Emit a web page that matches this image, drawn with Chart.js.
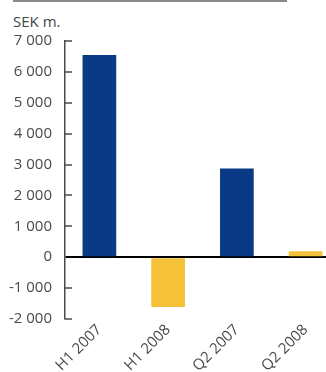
<!DOCTYPE html>
<html>
<head>
<meta charset="utf-8">
<script src="https://cdn.jsdelivr.net/npm/chart.js@4/dist/chart.umd.min.js"></script>
<style>
  html, body { margin: 0; padding: 0; background: #fff; overflow: hidden; }
  #wrap { position: relative; width: 326px; height: 372px; overflow: hidden; font-family: "Open Sans", sans-serif; }
  #rule { position: absolute; left: 13px; top: 0; width: 274px; height: 2px; background: #8a8a8a; }
  #unit { position: absolute; left: 13px; top: 11px; font-size: 15px; color: #444; }
  #box { position: absolute; left: 0; top: 0; width: 340px; height: 372px; }
</style>
</head>
<body>
<div id="wrap">
  <div id="rule"></div>
  <div id="unit">SEK m.</div>
  <div id="box"><canvas id="resultChart"></canvas></div>
</div>
<script>
const periods = ['H1 2007', 'H1 2008', 'Q2 2007', 'Q2 2008'];
const result = [6550, -1610, 2870, 190];
const barColors = ['#0a3a86', '#f5c138', '#0a3a86', '#f5c138'];
const yTicks = [7000, 6000, 5000, 4000, 3000, 2000, 1000, 0, -1000, -2000];

const axisGrey = '#4a4a4a';

// short tick marks pointing into the plot from the y axis
const inwardTicks = {
    id: 'inwardTicks',
    afterDraw(chart) {
        const y = chart.scales.y;
        const x0 = chart.chartArea.left;
        const c = chart.ctx;
        c.save();
        c.strokeStyle = axisGrey;
        c.lineWidth = 1.5;
        yTicks.forEach(v => {
            if (v === 0) return;
            const py = Math.round(y.getPixelForValue(v));
            c.beginPath();
            c.moveTo(x0 - 0.75, py);
            c.lineTo(x0 + 7, py);
            c.stroke();
        });
        c.restore();
    }
};

const ctx = document.getElementById('resultChart').getContext('2d');
const resultChart = new Chart(ctx, {
    type: 'bar',
    data: {
        labels: periods,
        datasets: [{
            data: result,
            backgroundColor: barColors,
            borderWidth: 0,
            categoryPercentage: 1,
            barPercentage: 0.49
        }]
    },
    options: {
        responsive: true,
        maintainAspectRatio: false,
        animation: false,
        layout: { padding: { top: 41, left: 0, right: 0, bottom: 0 } },
        plugins: {
            legend: { display: false },
            tooltip: { enabled: false }
        },
        scales: {
            x: {
                grid: { display: false, drawTicks: false },
                border: { display: false },
                ticks: {
                    minRotation: 45,
                    maxRotation: 45,
                    padding: 2,
                    color: axisGrey,
                    font: { family: 'Open Sans', size: 15 }
                },
                afterFit: s => { s.height = 53; }
            },
            y: {
                min: -2000,
                max: 7000,
                afterBuildTicks: s => { s.ticks = yTicks.map(v => ({ value: v })); },
                grid: {
                    color: c => c.tick && c.tick.value === 0 ? '#000' : 'rgba(0,0,0,0)',
                    lineWidth: c => c.tick && c.tick.value === 0 ? 2 : 0,
                    drawTicks: false
                },
                border: { display: true, color: axisGrey, width: 1.5 },
                ticks: {
                    padding: 13,
                    color: axisGrey,
                    font: { family: 'Open Sans', size: 15 },
                    callback: v => String(v).replace(/\B(?=(\d{3})+(?!\d))/g, ' ')
                },
                afterFit: s => { s.width = 65; }
            }
        }
    },
    plugins: [inwardTicks]
});
</script>
</body>
</html>
